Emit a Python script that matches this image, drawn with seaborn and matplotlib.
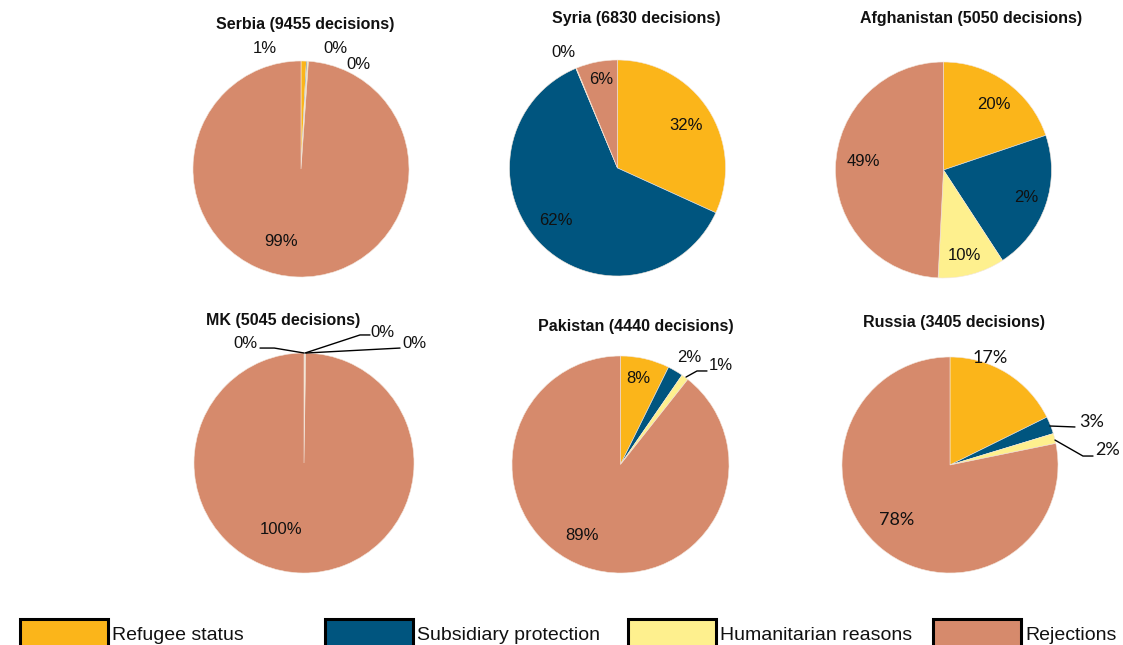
import matplotlib
matplotlib.use("Agg")
import matplotlib.pyplot as plt
from matplotlib.patches import Rectangle
import seaborn as sns

# ---------------- data ----------------
categories = ["Refugee status", "Subsidiary protection", "Humanitarian reasons", "Rejections"]
countries = ["Serbia", "Syria", "Afghanistan", "MK", "Pakistan", "Russia"]
decisions = [9455, 6830, 5050, 5045, 4440, 3405]

serbia_vals = [0.8, 0.15, 0.15, 98.9]
syria_vals = [31.8, 61.9, 0.1, 6.2]
afghanistan_vals = [19.8, 21.0, 10.0, 49.2]
mk_vals = [0.1, 0.05, 0.1, 99.75]
pakistan_vals = [7.3, 2.3, 1.05, 89.35]
russia_vals = [17.7, 2.6, 1.5, 78.2]

serbia_labels = ["1%", "0%", "0%", "99%"]
syria_labels = ["32%", "62%", "0%", "6%"]
afghanistan_labels = ["20%", "2%", "10%", "49%"]
mk_labels = ["0%", "0%", "0%", "100%"]
pakistan_labels = ["8%", "2%", "1%", "89%"]
russia_labels = ["17%", "3%", "2%", "78%"]

all_vals = [serbia_vals, syria_vals, afghanistan_vals, mk_vals, pakistan_vals, russia_vals]
all_labels = [serbia_labels, syria_labels, afghanistan_labels, mk_labels, pakistan_labels, russia_labels]

# ---------------- style / layout ----------------
sns.set_theme(style="white")
plt.rcParams["font.family"] = ["Liberation Sans", "DejaVu Sans"]
palette = sns.color_palette(["#FBB51A", "#00557F", "#FEF08E", "#D68A6C"])

W, H = 1123, 645
fig = plt.figure(figsize=(W / 100, H / 100), dpi=100)

# pie centre (px from top-left) and radius in px
centers = [(301, 169, 108), (617.5, 168, 108), (943.5, 170, 108),
           (304, 463, 110), (620.5, 464.5, 108.5), (950, 465, 108)]
title_pos = [(305, 25), (636, 19), (971, 18), (283, 321), (636, 327), (954, 323)]

# label positions in units of pie radius
label_pos = [
    [(-0.333, 1.12), (0.315, 1.12), (0.528, 0.972), (-0.185, -0.667)],
    [(0.634, 0.398), (-0.569, -0.49), (-0.505, 1.065), (-0.153, 0.815)],
    [(0.463, 0.602), (0.764, -0.259), (0.19, -0.796), (-0.745, 0.083)],
    [(-0.536, 1.09), (0.709, 1.19), (1.0, 1.09), (-0.209, -0.609)],
    [(0.161, 0.797), (0.631, 0.982), (0.926, 0.908), (-0.355, -0.65)],
    [(0.37, 0.99), (1.315, 0.398), (1.463, 0.139), (-0.49, -0.51)],
]
# leader lines (pie index -> list of polylines, radius units)
leaders = {
    3: [[(0.0, 1.0), (-0.27, 1.045), (-0.4, 1.045)],
        [(0.01, 1.0), (0.509, 1.164), (0.6, 1.164)],
        [(0.02, 1.0), (0.873, 1.045)]],
    4: [[(0.604, 0.806), (0.705, 0.862), (0.797, 0.862)]],
    5: [[(0.926, 0.361), (1.157, 0.352)],
        [(0.972, 0.231), (1.231, 0.083), (1.324, 0.083)]],
}

lim = 1.2
for i, (vals, labs) in enumerate(zip(all_vals, all_labels)):
    cx, cy, r = centers[i]
    ax = fig.add_axes([(cx - lim * r) / W, 1 - (cy + lim * r) / H, 2 * lim * r / W, 2 * lim * r / H])
    ax.pie(vals, colors=palette, startangle=90, counterclock=False, radius=1,
           wedgeprops=dict(edgecolor="#f3e6dc", linewidth=0.4))
    ax.set_xlim(-lim, lim)
    ax.set_ylim(-lim, lim)
    ax.set_aspect("equal")
    ax.axis("off")
    fam = ["Lato", "DejaVu Sans"] if countries[i] == "Russia" else ["Liberation Sans", "DejaVu Sans"]
    fs = 13 if countries[i] == "Russia" else 12
    for lab, (lx, ly) in zip(labs, label_pos[i]):
        ax.text(lx, ly, lab, ha="center", va="center", fontsize=fs, family=fam,
                color="#111111", clip_on=False)
    for line in leaders.get(i, []):
        xs = [p[0] for p in line]
        ys = [p[1] for p in line]
        ax.plot(xs, ys, color="black", lw=1.0, clip_on=False)
    tx, ty = title_pos[i]
    fig.text(tx / W, 1 - ty / H, f"{countries[i]} ({decisions[i]} decisions)",
             ha="center", va="center", fontsize=11.5, fontweight="bold", color="#111111")

# ---------------- legend ----------------
leg_x = [20, 325, 628, 933]
for j, cat in enumerate(categories):
    x0 = leg_x[j]
    rect = Rectangle((x0 / W, 1 - 660 / H), 88 / W, (660 - 619) / H, transform=fig.transFigure,
                     facecolor=palette[j], edgecolor="black", linewidth=2.2, clip_on=False)
    fig.patches.append(rect)
    fig.text((x0 + 92) / W, 1 - 635 / H, cat, ha="left", va="center", fontsize=14, color="#111111")

fig.savefig("out.png", dpi=100)
